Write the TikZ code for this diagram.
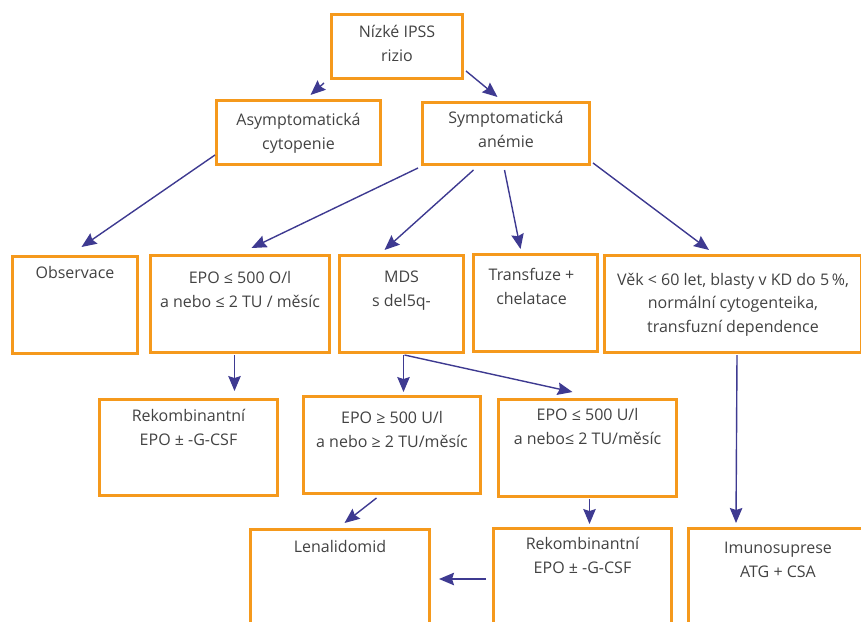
\documentclass[tikz,border=0pt]{standalone}
\usepackage{fontspec}
\setmainfont{Open Sans}
\usetikzlibrary{arrows.meta}
\definecolor{boxorange}{RGB}{245,153,28}
\definecolor{arrownavy}{RGB}{62,58,145}
\definecolor{textgray}{RGB}{66,66,66}
\begin{document}
\begin{tikzpicture}[x=1pt, y=-1pt,
	box/.style={shape=rectangle, draw=boxorange, line width=3pt, inner sep=0pt, anchor=north west},
	txt/.style={align=center, inner sep=0pt, anchor=base, text=textgray, font=\fontsize{16}{23.5}\selectfont},
	arr/.style={draw=arrownavy, line width=1.4pt, -{Stealth[length=15pt, width=12.5pt, inset=2pt]}}]
				\useasboundingbox (0,0) rectangle (861,621);
				\clip (0,0) rectangle (861,621);
				% Paths, nodes and wires:
				\node[box, minimum width=131pt, minimum height=64pt] (nizke) at (330, 13){};
				\node[box, minimum width=164pt, minimum height=64pt] (asym) at (215, 99){};
				\node[box, minimum width=167pt, minimum height=62pt] (sym) at (421, 101){};
				\node[box, minimum width=125pt, minimum height=97pt] (obs) at (11, 255){};
				\node[box, minimum width=179pt, minimum height=97pt] (epoa) at (149, 254){};
				\node[box, minimum width=124pt, minimum height=97pt] (mds) at (338, 254){};
				\node[box, minimum width=124pt, minimum height=97pt] (trans) at (472, 253){};
				\node[box, minimum width=257pt, minimum height=97pt] (vek) at (603, 254){};
				\node[box, minimum width=178pt, minimum height=96pt] (rekl) at (98, 398){};
				\node[box, minimum width=177pt, minimum height=97pt] (epob) at (302, 395){};
				\node[box, minimum width=178pt, minimum height=97pt] (epoc) at (497, 398){};
				\node[box, minimum width=179pt, minimum height=120pt] (lena) at (249, 528){};
				\node[box, minimum width=178pt, minimum height=120pt] (rekr) at (492, 527){};
				\node[box, minimum width=179pt, minimum height=120pt] (imun) at (687, 527){};
				% texts (base = last line)
				\node[txt] (nizket) at ([yshift=-48pt]nizke.north) {Nízké IPSS\\rizio};
				\node[txt] (asymt) at ([yshift=-50pt]asym.north) {Asymptomatická\\cytopenie};
				\node[txt] (symt) at ([yshift=-46pt]sym.north) {Symptomatická\\anémie};
				\node[txt] (obst) at ([yshift=-23pt]obs.north) {Observace};
				\node[txt] (epoat) at ([yshift=-53pt]epoa.north) {EPO ≤ 500 O/l\\a nebo ≤ 2 TU / měsíc};
				\node[txt] (mdst) at ([yshift=-52pt]mds.north) {MDS\\s del5q-};
				\node[txt] (transt) at ([xshift=-4pt, yshift=-51pt]trans.north) {Transfuze +\\chelatace};
				\node[txt] (vekt) at ([yshift=-78pt]vek.north) {Věk < 60 let, blasty v KD do 5\,\%,\\normální cytogenteika,\\transfuzní dependence};
				\node[txt] (reklt) at ([yshift=-47pt]rekl.north) {Rekombinantní\\EPO ± -G-CSF};
				\node[txt] (epobt) at ([yshift=-52pt]epob.north) {EPO ≥ 500 U/l\\a nebo ≥ 2 TU/měsíc};
				\node[txt] (epoct) at ([yshift=-46pt]epoc.north) {EPO ≤ 500 U/l\\a nebo≤ 2 TU/měsíc};
				\node[txt] (lenat) at ([yshift=-24pt]lena.north) {Lenalidomid};
				\node[txt] (rekrt) at ([yshift=-46pt]rekr.north) {Rekombinantní\\EPO ± -G-CSF};
				\node[txt] (imunt) at ([yshift=-50pt]imun.north) {Imunosuprese\\ATG + CSA};
				\draw[arr] ([xshift=-6pt, yshift=-3pt]nizke.south west) -- ([xshift=12pt, yshift=4pt]asym.north);
				\draw[arr] ([xshift=2pt, yshift=9pt]nizke.south east) -- ([xshift=-8.5pt, yshift=4pt]sym.north);
				\draw[arr] ([yshift=11pt]asym.south west) -- ([xshift=6.5pt, yshift=8pt]obs.north);
				\draw[arr] ([xshift=-3pt, yshift=-2pt]sym.south west) -- ([xshift=11.5pt, yshift=6pt]epoa.north);
				\draw[arr] ([xshift=-32.5pt, yshift=-4pt]sym.south) -- ([xshift=-17pt, yshift=4pt]mds.north);
				\draw[arr] ([xshift=-1.5pt, yshift=-4pt]sym.south) -- ([xshift=-15pt, yshift=4pt]trans.north);
				\draw[arr] ([xshift=2pt, yshift=3pt]sym.south east) -- ([xshift=-24pt, yshift=4pt]vek.north);
				\draw[arr] ([xshift=-5.5pt, yshift=-1pt]epoa.south) -- ([xshift=46pt, yshift=7pt]rekl.north);
				\draw[arr] ([xshift=2pt, yshift=-1pt]mds.south) -- ([xshift=11.5pt, yshift=3pt]epob.north);
				\draw[arr] ([xshift=3pt, yshift=-1pt]mds.south) -- ([xshift=-15pt, yshift=6pt]epoc.north);
				\draw[arr] ([xshift=-15.5pt, yshift=-3pt]epob.south) -- ([xshift=4.5pt, yshift=5pt]lena.north);
				\draw[arr] ([xshift=2pt, yshift=-1pt]epoc.south) -- ([xshift=7pt, yshift=3pt]rekr.north);
				\draw[arr] ([xshift=-6pt, yshift=-52pt]rekr.north west) -- ([xshift=8pt, yshift=-51pt]lena.north east);
				\draw[arr] ([xshift=4pt, yshift=-1pt]vek.south) -- ([xshift=49pt, yshift=4pt]imun.north west);
\end{tikzpicture}
\end{document}
